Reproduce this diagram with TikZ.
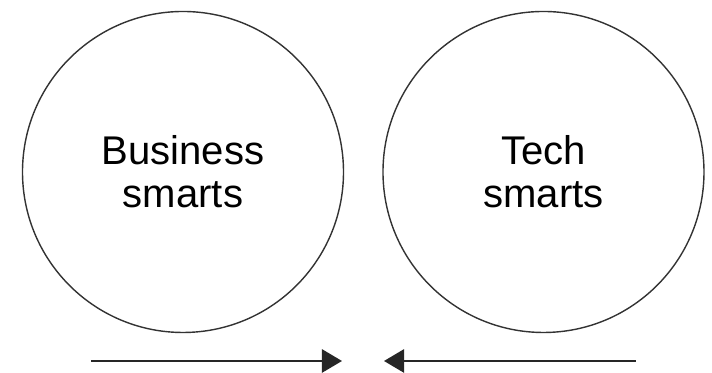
\documentclass[tikz,border=0pt]{standalone}
\usepackage{fontspec}
\setmainfont{Liberation Sans}
\usetikzlibrary{arrows.meta}

\tikzset{
    smarts/.style={draw=black!80, circle, line width=0.4pt, minimum size=3.21cm, align=center, font=\fontsize{11.4}{12.3}\selectfont},
    push/.style={draw=black!85, line width=0.6pt, -{Triangle[length=5.7pt, width=6.6pt]}}
}

\begin{document}
\begin{tikzpicture}
                \useasboundingbox (0,0) rectangle (7.12,3.73);
                \node[smarts] (business) at (1.83,2.01) {Business\\smarts};
                \node[smarts] (tech) at (5.435,2.01) {Tech\\smarts};
                \coordinate (lstart) at (0.91,0.12);
                \coordinate (lend) at (3.42,0.12);
                \coordinate (rstart) at (6.36,0.12);
                \coordinate (rend) at (3.84,0.12);
                \draw[push] (lstart) -- (lend);
                \draw[push] (rstart) -- (rend);
            \end{tikzpicture}
\end{document}
